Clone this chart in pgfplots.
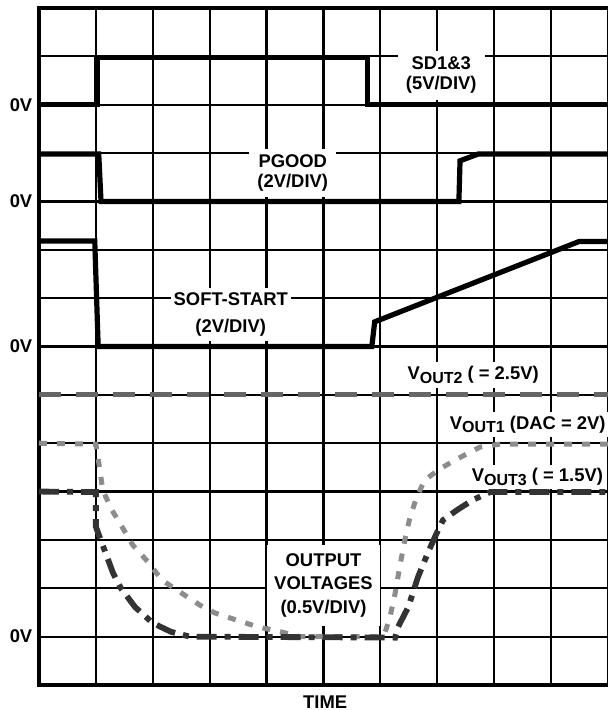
\documentclass[border=0pt]{standalone}
\usepackage{pgfplots}
\pgfplotsset{compat=1.18}
\usepackage{fontspec}
\setmainfont{Liberation Sans}

\newcommand\Vsub[1]{V\raisebox{-1.7pt}{\fontsize{8}{8}\selectfont #1}}

\begin{document}
\begin{tikzpicture}[font=\fontsize{9.2}{10}\selectfont\bfseries,
    trace/.style={black, line width=2.6pt, line join=miter},
    lbl/.style={fill=white, align=center, inner xsep=4pt, inner ysep=3pt}]
\useasboundingbox (0,0) rectangle (303.5pt,355pt);
\begin{axis}[
    at={(19.5pt,12.5pt)}, anchor=south west,
    scale only axis,
    width=285.9pt, height=338.5pt,
    xmin=0, xmax=10.05, ymin=0, ymax=14,
    xtick={0,...,10}, ytick={0,...,14},
    xticklabels={}, yticklabels={},
    major tick length=0pt,
    grid=major,
    major grid style={black, line width=1.1pt},
    axis line style={black, line width=1.6pt},
    clip=false,
]

% SD1&3
\addplot[trace] coordinates {(0,12) (1.02,12) (1.02,12.97) (5.78,12.97) (5.78,12) (10.05,12)};
% PGOOD
\addplot[trace] coordinates {(0,10.98) (1.05,10.98) (1.09,10) (7.38,10) (7.40,10.84) (7.72,10.98) (10.05,10.98)};
% SOFT-START
\addplot[trace] coordinates {(0,9.18) (0.98,9.18) (1.04,7) (5.85,7) (5.90,7.51) (9.49,9.17) (10.05,9.17)};

% VOUT2
\addplot[black!60, line width=2.5pt, dash pattern=on 11pt off 7.5pt] coordinates {(0,6) (10.05,6)};
% VOUT1
\addplot[black!45, line width=2.5pt, dash pattern=on 4pt off 5pt] coordinates {
(0,5) (1.0,4.98) (1.07,4.45) (1.12,4.03) (1.28,3.62) (1.42,3.35) (1.65,2.89) (1.92,2.54)
(2.16,2.17) (2.48,1.92) (2.83,1.65) (3.09,1.49) (3.48,1.34) (3.85,1.20) (4.25,1.10) (4.59,1.0)
(6.0,1.0) (6.08,1.08) (6.17,1.41) (6.26,1.90) (6.34,2.44) (6.43,3.0) (6.52,3.47) (6.64,3.89)
(6.78,4.24) (7.05,4.47) (7.31,4.65) (7.75,4.92) (8.1,4.98) (10.05,4.98)};
% VOUT3
\addplot[black!80, line width=2.9pt, dash pattern=on 10pt off 4pt on 3pt off 4pt] coordinates {
(0,4) (1.0,3.99) (1.0,3.27) (1.12,2.89) (1.30,2.32) (1.44,2.0) (1.69,1.61) (2.0,1.28)
(2.32,1.10) (2.65,1.0) (6.26,0.98) (6.31,1.2) (6.49,1.61) (6.66,2.23) (6.84,2.75) (6.99,3.14)
(7.1,3.41) (7.35,3.62) (7.63,3.83) (7.93,3.99) (10.05,3.99)};

\node[lbl] at (axis cs:7.07,12.61) {SD1\&3\\(5V/DIV)};
\node[lbl] at (axis cs:4.46,10.59) {PGOOD\\(2V/DIV)};
\node[lbl, inner xsep=1.5pt, inner ysep=2.5pt] at (axis cs:3.37,7.66) {SOFT-START\\[3.5pt](2V/DIV)};
\node[lbl, inner xsep=3.5pt, inner ysep=4.5pt] at (axis cs:5.0,2.06) {OUTPUT\\[1.75pt]VOLTAGES\\[1.75pt](0.5V/DIV)};
\node[fill=white, inner sep=2pt] at (axis cs:7.63,6.41) {\Vsub{OUT2} ( = 2.5V)};
\node[fill=white, inner sep=2pt] at (axis cs:8.59,5.38) {\Vsub{OUT1} (DAC = 2V)};
\node[fill=white, inner sep=1.5pt] at (axis cs:8.76,4.30) {\Vsub{OUT3} ( = 1.5V)};

\node at (axis cs:-0.316,12) {0V};
\node at (axis cs:-0.316,10) {0V};
\node at (axis cs:-0.316,7) {0V};
\node at (axis cs:-0.316,1) {0V};
\node at (axis cs:5.03,-0.35) {TIME};
\end{axis}
\end{tikzpicture}
\end{document}
